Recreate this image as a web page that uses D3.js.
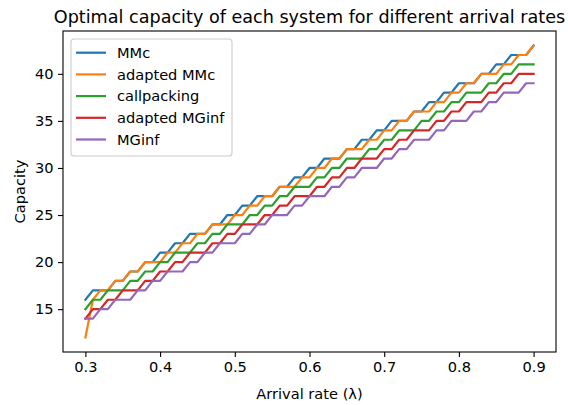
<!DOCTYPE html>
<html>
<head>
<meta charset="utf-8">
<script src="https://cdn.jsdelivr.net/npm/d3@7"></script>
<style>
  html, body { margin: 0; padding: 0; background: #fff; }
  svg { display: block; }
  text { font-family: "DejaVu Sans", sans-serif; fill: #000; }
</style>
</head>
<body>
<div id="chart"></div>
<script>
const arrivalRates = d3.range(61).map(i => +(0.3 + i * 0.01).toFixed(2));
const seriesNames = ["MMc", "adapted MMc", "callpacking", "adapted MGinf", "MGinf"];
const colors = ["#1f77b4", "#ff7f0e", "#2ca02c", "#d62728", "#9467bd"];
const xTicks = [0.3, 0.4, 0.5, 0.6, 0.7, 0.8, 0.9];
const yTicks = [15, 20, 25, 30, 35, 40];

const mmc = [16,17,17,17,18,18,19,19,20,20,21,21,22,22,23,23,23,24,24,25,25,26,26,27,27,27,28,28,29,29,30,30,31,31,31,32,32,33,33,34,34,35,35,35,36,36,37,37,38,38,39,39,39,40,40,41,41,42,42,42,43];
const adaptedMMc = [12,16,17,17,18,18,19,19,20,20,20,21,21,22,22,23,23,24,24,24,25,25,26,26,27,27,28,28,28,29,29,30,30,31,31,32,32,32,33,33,34,34,35,35,36,36,36,37,37,38,38,39,39,40,40,40,41,41,42,42,43];
const callpacking = [15,16,16,17,17,17,18,18,19,19,20,20,21,21,21,22,22,23,23,24,24,24,25,25,26,26,27,27,28,28,28,29,29,30,30,31,31,31,32,32,33,33,34,34,34,35,35,36,36,37,37,38,38,38,39,39,40,40,41,41,41];
const adaptedMGinf = [14,15,15,16,16,17,17,17,18,18,19,19,20,20,21,21,21,22,22,23,23,24,24,24,25,25,26,26,27,27,27,28,28,29,29,30,30,31,31,31,32,32,33,33,34,34,34,35,35,36,36,37,37,37,38,38,39,39,40,40,40];
const mgInf = [14,14,15,15,16,16,16,17,17,18,18,19,19,19,20,20,21,21,22,22,22,23,23,24,24,25,25,25,26,26,27,27,27,28,28,29,29,30,30,30,31,31,32,32,33,33,33,34,34,35,35,35,36,36,37,37,38,38,38,39,39];
const seriesValues = [mmc, adaptedMMc, callpacking, adaptedMGinf, mgInf];

const W = 568, H = 405;
const margin = { left: 63, right: 12, top: 31, bottom: 53 };
const svg = d3.select("#chart").append("svg").attr("width", W).attr("height", H);
svg.append("rect").attr("width", W).attr("height", H).attr("fill", "#fff");

const allVals = seriesValues.flat();
const yMin = d3.min(allVals), yMax = d3.max(allVals);
const yPad = (yMax - yMin) * 0.05;
const xPad = (0.9 - 0.3) * 0.05;

const x = d3.scaleLinear().domain([0.3 - xPad, 0.9 + xPad]).range([margin.left, W - margin.right]);
const y = d3.scaleLinear().domain([yMin - yPad, yMax + yPad]).range([H - margin.bottom, margin.top]);

const g = svg.append("g");
svg.append("clipPath").attr("id", "clip").append("rect")
  .attr("x", margin.left).attr("y", margin.top)
  .attr("width", W - margin.left - margin.right).attr("height", H - margin.top - margin.bottom);

const line = d3.line().x((d, i) => x(arrivalRates[i])).y(d => y(d));
const linesG = g.append("g").attr("clip-path", "url(#clip)");
seriesValues.forEach((vals, k) => {
  linesG.append("path").datum(vals)
    .attr("d", line)
    .attr("fill", "none")
    .attr("stroke", colors[k])
    .attr("stroke-width", 2.2)
    .attr("stroke-linejoin", "round")
    .attr("stroke-linecap", "square");
});

const xAxis = d3.axisBottom(x).tickValues(xTicks).tickFormat(d3.format(".1f")).tickSize(5).tickPadding(4.5);
const yAxis = d3.axisLeft(y).tickValues(yTicks).tickFormat(d3.format("d")).tickSize(5).tickPadding(4.5);

const gx = g.append("g").attr("transform", `translate(0,${H - margin.bottom})`).call(xAxis);
const gy = g.append("g").attr("transform", `translate(${margin.left},0)`).call(yAxis);
[gx, gy].forEach(a => {
  a.select(".domain").remove();
  a.selectAll(".tick line").attr("stroke", "#000").attr("stroke-width", 1.1);
  a.selectAll(".tick text").attr("font-size", "14.6px").attr("fill", "#000")
    .style("font-family", "'DejaVu Sans', sans-serif");
});

// frame
g.append("rect")
  .attr("x", margin.left).attr("y", margin.top)
  .attr("width", W - margin.left - margin.right).attr("height", H - margin.top - margin.bottom)
  .attr("fill", "none").attr("stroke", "#000").attr("stroke-width", 1.1);

// title
svg.append("text")
  .attr("x", (margin.left + W - margin.right) / 2).attr("y", 23)
  .attr("text-anchor", "middle").attr("font-size", "17.6px")
  .text("Optimal capacity of each system for different arrival rates");

// axis labels
svg.append("text")
  .attr("x", (margin.left + W - margin.right) / 2).attr("y", 399)
  .attr("text-anchor", "middle").attr("font-size", "14.6px")
  .text("Arrival rate (λ)");
svg.append("text")
  .attr("transform", `translate(25,${(margin.top + H - margin.bottom) / 2}) rotate(-90)`)
  .attr("text-anchor", "middle").attr("font-size", "14.6px")
  .text("Capacity");

// legend
const lg = svg.append("g").attr("transform", "translate(71,39)");
lg.append("rect").attr("x", 0).attr("y", 0).attr("width", 161).attr("height", 117)
  .attr("rx", 3).attr("fill", "#fff").attr("fill-opacity", 0.8)
  .attr("stroke", "#cccccc").attr("stroke-width", 1.1);
seriesNames.forEach((name, k) => {
  const yy = 13.7 + k * 21.7;
  lg.append("line").attr("x1", 5).attr("x2", 35).attr("y1", yy).attr("y2", yy)
    .attr("stroke", colors[k]).attr("stroke-width", 2.2);
  lg.append("text").attr("x", 46).attr("y", yy).attr("dy", "0.36em")
    .attr("font-size", "14.6px").text(name);
});
</script>
</body>
</html>
